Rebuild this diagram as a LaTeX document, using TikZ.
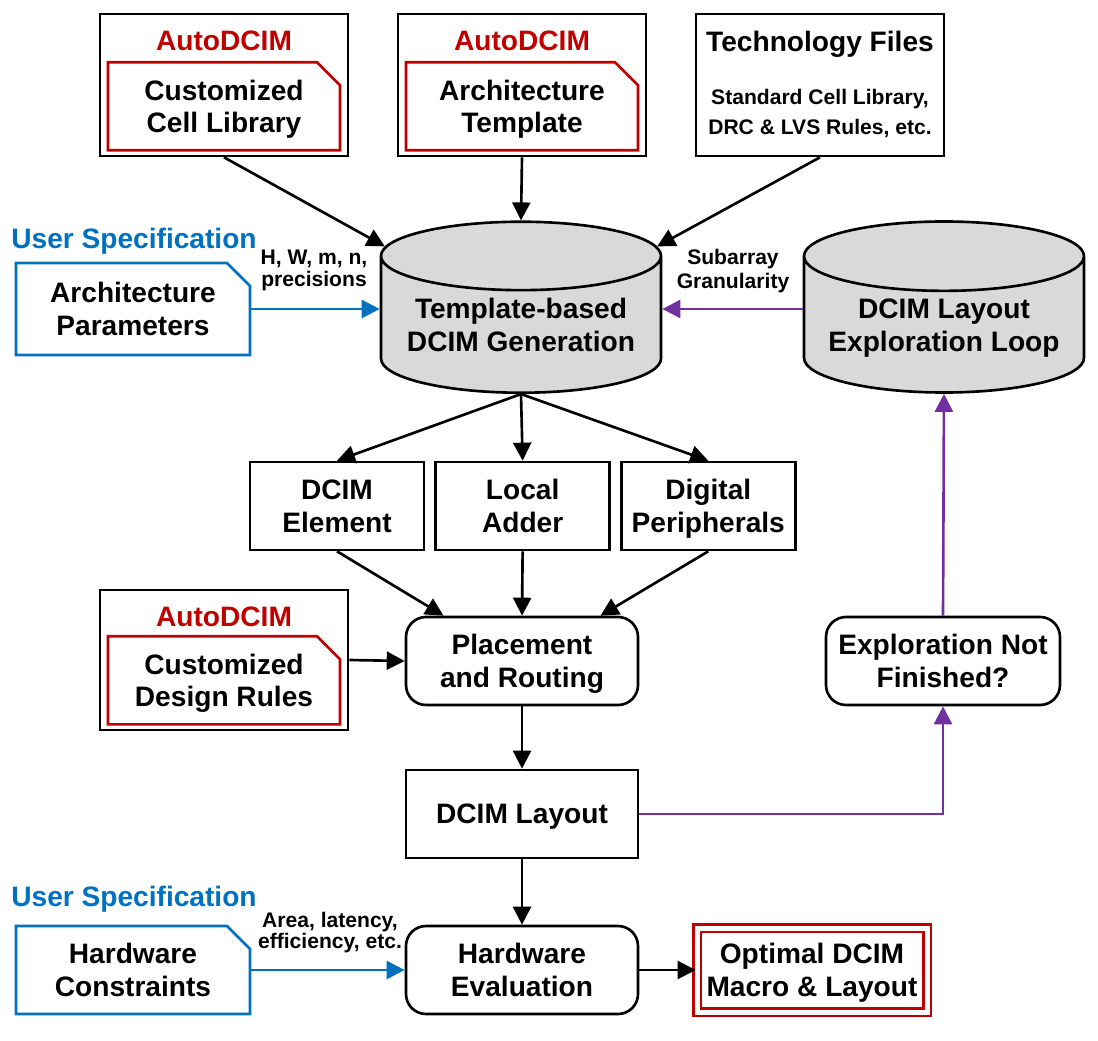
\documentclass[tikz,border=0pt]{standalone}
\usepackage{fontspec}
\setmainfont{Liberation Sans}
\usetikzlibrary{arrows.meta,positioning,shapes.geometric}
\definecolor{autored}{HTML}{C00000}
\definecolor{userblue}{HTML}{0070C0}
\definecolor{looppurple}{HTML}{7030A0}
\definecolor{cylgray}{HTML}{D9D9D9}
\newcommand{\boxfont}{\fontsize{16}{18.7}\selectfont\bfseries}
\newcommand{\notefont}{\fontsize{12}{12.5}\selectfont\bfseries}
\tikzset{
  plainbox/.style={draw,line width=1.5pt,fill=white,align=center,font=\boxfont,inner sep=0pt,
    text depth=0pt,minimum width=46.4mm,minimum height=17.6mm},
  roundbox/.style={plainbox,rounded corners=4mm},
  outerbox/.style={plainbox,minimum width=49.6mm},
  tagbox/.style={rectangle,outer sep=0pt,align=center,font=\boxfont,inner sep=0pt,
    text depth=0pt,minimum width=46.4mm,minimum height=17.6mm},
  dbcyl/.style={cylinder,shape border rotate=90,aspect=0.3,draw,line width=1.5pt,
    fill=cylgray,minimum width=56mm,minimum height=34.2mm,align=center,font=\boxfont,
    inner sep=0pt,text depth=0pt},
  autotitle/.style={text=autored,font=\boxfont,inner sep=0pt,text depth=0pt},
  usertitle/.style={text=userblue,font=\boxfont,inner sep=0pt,text depth=0pt},
  note/.style={font=\notefont,align=center,inner sep=0pt,text depth=0pt},
  flow/.style={->,line width=1.5pt},
  userflow/.style={flow,draw=userblue},
  loopflow/.style={flow,draw=looppurple}
}
% outline of a tag with its top right corner cut off
\newcommand{\tagline}[2]{\draw[line width=1.5pt,draw=#2] (#1.south west) -- (#1.north west)
  -- ([xshift=-4.6mm]#1.north east) -- ([yshift=-4.6mm]#1.north east) -- (#1.south east) -- cycle;}
\newcommand{\autobox}[4]{\node[outerbox,minimum height=#3] (#1) at (#2) {};
  \node[tagbox,above=1.4mm of #1.south] (#1tag) {#4};
  \tagline{#1tag}{autored}
  \node[autotitle,below=3.5mm of #1.north] (#1name) {AutoDCIM};}

\begin{document}
\begin{tikzpicture}[x=0.2mm,y=-0.2mm,>={Triangle[length=3.6mm,width=3.6mm]}]
\useasboundingbox (0,0) rectangle (1098,1041);
% inputs on top
\autobox{lib}{224,85}{28.4mm}{Customized\\Cell Library}
\autobox{arch}{522,85}{28.4mm}{Architecture\\Template}
\node[outerbox,minimum height=28.4mm] (tech) at (820,85) {};
\node[font=\boxfont,inner sep=0pt,text depth=0pt] (techtitle) at (820,41) {Technology Files};
\node[note,font=\fontsize{12}{17}\selectfont\bfseries] (techlist) at (820,112) {Standard Cell Library,\\DRC \& LVS Rules, etc.};
% generation and loop
\node[dbcyl] (gen) at (521,325) {Template-based\\DCIM Generation};
\node[dbcyl] (loop) at (944,325) {DCIM Layout\\Exploration Loop};
\node[usertitle] (spec1) at (134,238) {User Specification};
\node[tagbox,minimum width=46.8mm,minimum height=18.4mm] (archp) at (133,309) {Architecture\\Parameters};
\tagline{archp}{userblue}
\node[note] (paramlabel) at (314,268.5) {H, W, m, n,\\precisions};
\node[note,font=\fontsize{12}{13.6}\selectfont\bfseries] (granlabel) at (733,268.5) {Subarray\\Granularity};
% generated blocks
\node[plainbox,minimum width=34.8mm] (elem) at (337,506) {DCIM\\Element};
\node[plainbox,minimum width=34.8mm,right=1.8mm of elem] (adder) {Local\\Adder};
\node[plainbox,minimum width=34.8mm,right=1.8mm of adder] (periph) {Digital\\Peripherals};
\node[roundbox] (pnr) at (522,661) {Placement\\and Routing};
\autobox{rules}{224,660}{28mm}{Customized\\Design Rules}
\node[roundbox,minimum width=46.8mm] (explore) at (943,661) {Exploration Not\\Finished?};
\node[plainbox] (layout) at (522,814) {DCIM Layout};
% evaluation
\node[usertitle] (spec2) at (134,896) {User Specification};
\node[tagbox,minimum width=46.8mm] (hwc) at (133,970) {Hardware\\Constraints};
\tagline{hwc}{userblue}
\node[note,font=\fontsize{12}{12}\selectfont\bfseries] (hwlabel) at (330,930.5) {Area, latency,\\efficiency, etc.};
\node[roundbox] (eval) at (522,970) {Hardware\\Evaluation};
\node[plainbox,draw=autored,line width=0.55mm,double=white,double distance=1mm,
  minimum width=46mm,minimum height=16.8mm] (optimal) at (812,970) {Optimal DCIM\\Macro \& Layout};
% connectors
\draw[flow] (lib.south) -- (gen.150);
\draw[flow] (arch.south) -- (gen.north);
\draw[flow] (tech.south) -- (gen.30);
\draw[userflow] (archp.east) -- (archp.east -| gen.west);
\draw[loopflow] (archp.east -| loop.west) -- (archp.east -| gen.east);
\draw[flow] (gen.south) -- (elem.north);
\draw[flow] (gen.south) -- (adder.north);
\draw[flow] (gen.south) -- (periph.north);
\draw[flow] (elem.south) -- (pnr.150);
\draw[flow] (adder.south) -- (pnr.north);
\draw[flow] (periph.south) -- (pnr.30);
\draw[flow] (rules.east) -- (pnr.west);
\draw[flow] (pnr.south) -- (layout.north);
\draw[flow] (layout.south) -- (eval.north);
\draw[loopflow] (layout.east) -| (explore.south);
\draw[loopflow] (explore.north) -- (loop.south);
\draw[userflow] (hwc.east) -- (eval.west);
\draw[flow] (eval.east) -- (optimal.west);
\end{tikzpicture}
\end{document}
